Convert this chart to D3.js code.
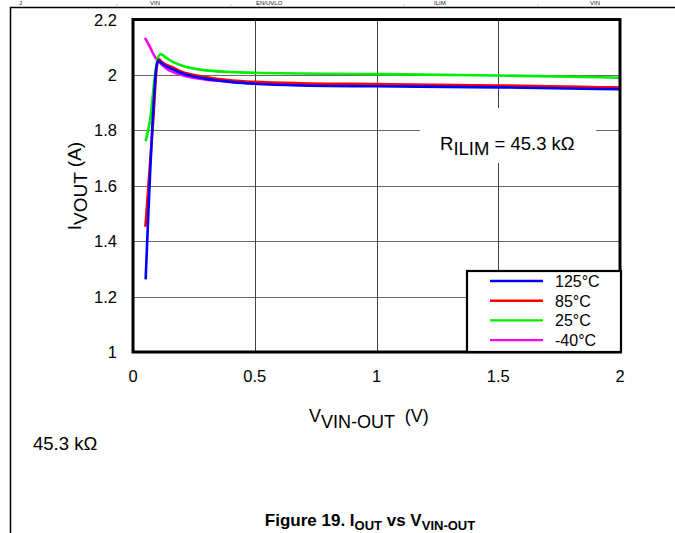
<!DOCTYPE html>
<html><head><meta charset="utf-8">
<script src="https://cdn.jsdelivr.net/npm/d3@7"></script>
<style>body{margin:0;background:#fff}svg{display:block;font-family:"Liberation Sans",Arial,sans-serif}</style>
</head><body><svg id="c" width="675" height="533"></svg>
<script>
const xTicks = [0, 0.5, 1, 1.5, 2];
const yTicks = [1, 1.2, 1.4, 1.6, 1.8, 2, 2.2];
const seriesNames = ["125°C", "85°C", "25°C", "-40°C"];
const seriesColors = ["#0000ff", "#ff0000", "#00ee00", "#ff00ff"];
const xs125 = [0.052, 0.081, 0.095, 0.104, 0.12, 0.166, 0.2, 0.275, 0.41, 0.5, 0.686, 1.0, 1.5, 2.0];
const ys125 = [1.262, 1.836, 2.02, 2.052, 2.04, 2.019, 2.006, 1.99, 1.974, 1.968, 1.962, 1.959, 1.955, 1.948];
const xs85 = [0.051, 0.083, 0.098, 0.107, 0.12, 0.166, 0.2, 0.275, 0.41, 0.5, 0.686, 1.0, 1.5, 2.0];
const ys85 = [1.452, 1.836, 2.03, 2.056, 2.046, 2.026, 2.012, 1.996, 1.980, 1.975, 1.970, 1.967, 1.962, 1.954];
const xs25 = [0.052, 0.07, 0.095, 0.105, 0.115, 0.13, 0.166, 0.2, 0.275, 0.41, 0.5, 1.0, 1.5, 2.0];
const ys25 = [1.761, 1.836, 2.03, 2.068, 2.075, 2.066, 2.046, 2.034, 2.019, 2.010, 2.008, 2.003, 1.998, 1.990];
const xsM40 = [0.049, 0.07, 0.09, 0.104, 0.138, 0.2, 0.275, 0.4, 0.5, 0.75, 1.0, 1.5, 2.0];
const ysM40 = [2.134, 2.10, 2.065, 2.05, 2.022, 2.0, 1.986, 1.975, 1.970, 1.966, 1.963, 1.959, 1.954];
const seriesX = [xs125, xs85, xs25, xsM40];
const seriesY = [ys125, ys85, ys25, ysM40];
const topLineFragments = ["J", ",", "VIN", ",", "EN/UVLO", ",", "ILIM", ",", "VIN"];

const svg = d3.select("#c");
const L = 133, R = 620, T = 19.5, B = 352;
const x = d3.scaleLinear().domain([0, 2]).range([L, R]);
const y = d3.scaleLinear().domain([1, 2.2]).range([B, T]);

// outer frame
svg.append("path").attr("d", `M10.5,533 V7.5 H675`).attr("fill","none").attr("stroke","#000").attr("stroke-width",1.5);

// remnants of the page's top line (shrunk to fit above the frame)
const topX = [19, 116, 150, 230, 256, 403, 434, 537, 590];
svg.selectAll(".tf").data(topLineFragments).enter().append("text")
  .attr("x", (d,i)=>topX[i]).attr("y", 5).attr("font-size", 6).attr("fill","#222").text(d=>d);

// grid
svg.append("g").selectAll("line").data(yTicks.slice(1,-1)).enter().append("line")
  .attr("x1", L).attr("x2", R).attr("y1", d=>Math.round(y(d))+0.5).attr("y2", d=>Math.round(y(d))+0.5)
  .attr("stroke","#666").attr("stroke-width",1.2);
svg.append("g").selectAll("line").data(xTicks.slice(1,-1)).enter().append("line")
  .attr("y1", T).attr("y2", B).attr("x1", d=>Math.round(x(d))+0.5).attr("x2", d=>Math.round(x(d))+0.5)
  .attr("stroke","#444").attr("stroke-width",1);

// annotation background
svg.append("rect").attr("x",420).attr("y",108).attr("width",176).attr("height",55).attr("fill","#fff");
const ann = svg.append("text").attr("x",440).attr("y",150).attr("font-size",18.5);
ann.append("tspan").text("R");
ann.append("tspan").attr("dy",5).text("ILIM");
ann.append("tspan").attr("dy",-5).text(" = 45.3 kΩ");

// curves
const line = d3.line().x(d=>x(d[0])).y(d=>y(d[1])).curve(d3.curveMonotoneX);
const order = [3, 2, 1, 0];
svg.append("g").selectAll("path").data(order).enter().append("path")
  .attr("d", i => line(seriesX[i].map((v,k)=>[v, seriesY[i][k]])))
  .attr("fill","none").attr("stroke", i=>seriesColors[i]).attr("stroke-width",2.6)
  .attr("stroke-linejoin","round");

// plot frame
svg.append("rect").attr("x",L).attr("y",T).attr("width",R-L).attr("height",B-T)
  .attr("fill","none").attr("stroke","#000").attr("stroke-width",3);

// ticks labels
svg.append("g").selectAll("text").data(yTicks).enter().append("text")
  .attr("x",117).attr("y",d=>y(d)+6).attr("text-anchor","end").attr("font-size",16.5)
  .text(d=>d3.format("~g")(d));
svg.append("g").selectAll("text").data(xTicks).enter().append("text")
  .attr("x",d=>x(d)).attr("y",382).attr("text-anchor","middle").attr("font-size",16.5)
  .text(d=>d3.format("~g")(d));

// legend
const lg = svg.append("g");
lg.append("rect").attr("x",467).attr("y",271).attr("width",154).attr("height",81)
  .attr("fill","#fff").attr("stroke","#000").attr("stroke-width",2.2);
seriesNames.forEach((n,i)=>{
  const yy = 281 + i*19.7;
  lg.append("line").attr("x1",490).attr("x2",543).attr("y1",yy).attr("y2",yy)
    .attr("stroke",seriesColors[i]).attr("stroke-width",2.4);
  lg.append("text").attr("x",555).attr("y",yy+6).attr("font-size",16).text(n);
});

// y axis title
const yt = svg.append("text").attr("transform","translate(81,186) rotate(-90)")
  .attr("text-anchor","middle").attr("font-size",19);
yt.append("tspan").text("I");
yt.append("tspan").attr("dy",6).text("VOUT");
yt.append("tspan").attr("dy",-6).text(" (A)");

// x axis title
const xt = svg.append("text").attr("x",309).attr("y",422).attr("font-size",18);
xt.append("tspan").text("V");
xt.append("tspan").attr("dy",6).text("VIN-OUT");
xt.append("tspan").attr("dy",-6).attr("dx",5).text(" (V)");

svg.append("text").attr("x",33).attr("y",450).attr("font-size",18.5).text("45.3 kΩ");

const cap = svg.append("text").attr("x",370).attr("y",526).attr("text-anchor","middle")
  .attr("font-size",17).attr("font-weight","bold");
cap.append("tspan").text("Figure 19. I");
cap.append("tspan").attr("dy",4).attr("font-size",13).text("OUT");
cap.append("tspan").attr("dy",-4).text(" vs V");
cap.append("tspan").attr("dy",4).attr("font-size",13).text("VIN-OUT");
</script></body></html>
